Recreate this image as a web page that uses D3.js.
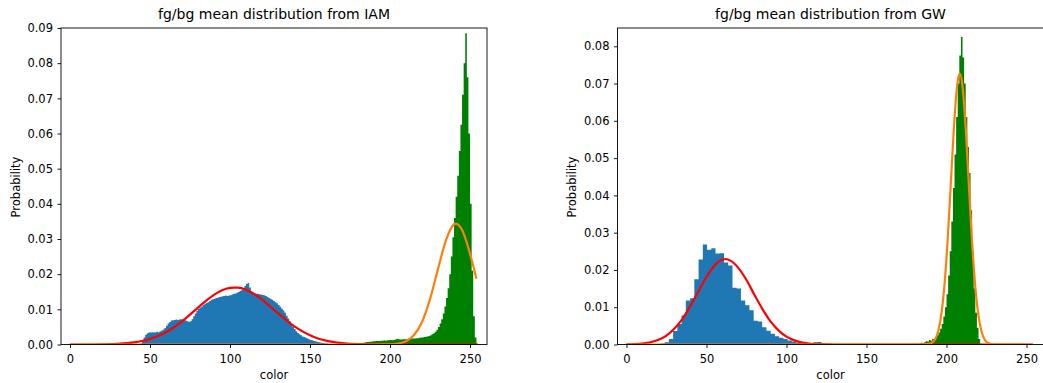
<!DOCTYPE html>
<html><head><meta charset="utf-8">
<script src="https://cdn.jsdelivr.net/npm/d3@7"></script>
<style>body{margin:0;background:#fff} text{font-family:"DejaVu Sans",sans-serif}</style>
</head><body><svg id="c" width="1043" height="383"></svg>
<script>
// ---------- data ----------
const xTicks = [0, 50, 100, 150, 200, 250];
const iamYTicks = [0, 0.01, 0.02, 0.03, 0.04, 0.05, 0.06, 0.07, 0.08, 0.09];
const gwYTicks = [0, 0.01, 0.02, 0.03, 0.04, 0.05, 0.06, 0.07, 0.08];
const titles = ["fg/bg mean distribution from IAM", "fg/bg mean distribution from GW"];

// IAM foreground histogram (bins of width 1 starting at 44)
const iamFgStart = 44, iamFgWidth = 1;
const iamFgValues = [0.0003,0.0012,0.0020,0.0028,0.0032,0.0034,0.0034,0.0035,0.0034,0.0035,0.0036,0.0035,0.0038,0.0040,0.0043,0.0047,0.0053,0.0060,0.0064,0.0068,0.0069,0.0070,0.0071,0.0070,0.0071,0.0072,0.0071,0.0070,0.0068,0.0066,0.0065,0.0066,0.0072,0.0080,0.0088,0.0096,0.0102,0.0105,0.0108,0.0112,0.0116,0.0118,0.0120,0.0124,0.0127,0.0129,0.0130,0.0132,0.0133,0.0135,0.0136,0.0137,0.0138,0.0139,0.0138,0.0139,0.0140,0.0142,0.0144,0.0145,0.0147,0.0149,0.0152,0.0155,0.0158,0.0166,0.0172,0.0175,0.0162,0.0150,0.0147,0.0146,0.0144,0.0144,0.0143,0.0142,0.0141,0.0140,0.0138,0.0135,0.0132,0.0130,0.0127,0.0124,0.0120,0.0117,0.0112,0.0107,0.0102,0.0097,0.0090,0.0082,0.0074,0.0066,0.0058,0.0050,0.0044,0.0038,0.0033,0.0029,0.0026,0.0023,0.0021,0.0019,0.0017,0.0015,0.0013,0.0012,0.0010,0.0009,0.0008,0.0007,0.0006,0.0005,0.0004,0.0003,0.0003,0.0002,0.0001];
// IAM background histogram (bins of width 1 starting at 180)
const iamBgStart = 180, iamBgWidth = 1;
const iamBgValues = [0.0001,0.0003,0.0004,0.0005,0.0006,0.0007,0.0007,0.0008,0.0008,0.0009,0.0009,0.0010,0.0010,0.0010,0.0011,0.0011,0.0012,0.0011,0.0012,0.0012,0.0013,0.0012,0.0013,0.0014,0.0016,0.0015,0.0014,0.0014,0.0015,0.0015,0.0015,0.0016,0.0016,0.0017,0.0017,0.0017,0.0018,0.0018,0.0019,0.0020,0.0020,0.0021,0.0022,0.0023,0.0024,0.0026,0.0029,0.0032,0.0036,0.0042,0.0050,0.0060,0.0072,0.0088,0.0108,0.0132,0.0160,0.0200,0.0250,0.0305,0.0360,0.0420,0.0480,0.0550,0.0625,0.0710,0.0800,0.0885,0.0760,0.0600,0.0400,0.0210,0.0080,0.0020,0.0003];
// IAM fitted curves
const iamFgFitX = [0,10,20,30,40,45,50,55,60,65,70,75,80,85,90,95,100,103,105,110,115,120,125,130,135,140,145,150,155,160,170,180,190,200,254];
const iamFgFitY = [0,0,0.00006,0.0002,0.0006,0.0010,0.0016,0.0024,0.0035,0.0049,0.0066,0.0085,0.0105,0.0124,0.0141,0.0154,0.0161,0.0162,0.0162,0.0156,0.0144,0.0128,0.0108,0.0089,0.0070,0.0052,0.0038,0.0026,0.0017,0.0011,0.0004,0.0001,0.00003,0,0];
const iamBgFitX = [0,100,190,195,200,205,210,215,220,225,230,235,240,241,245,250,254];
const iamBgFitY = [0,0,0,0.00001,0.00006,0.00026,0.00092,0.0027,0.0064,0.0129,0.0215,0.0297,0.0342,0.0344,0.0326,0.0258,0.0187];

// GW foreground histogram (bins of width 2.65 starting at 21.2)
const gwFgStart = 21.2, gwFgWidth = 2.65;
const gwFgValues = [0.0003,0.0006,0.0015,0.0036,0.0055,0.0078,0.0118,0.0124,0.0175,0.0228,0.0268,0.0254,0.0258,0.0244,0.0245,0.0220,0.0212,0.0152,0.0150,0.0118,0.0105,0.0092,0.0064,0.0062,0.0046,0.0037,0.0029,0.0022,0.0018,0.0015,0.0011,0.0008,0.0005,0.0004,0.0003,0.0002,0.0006,0.0007,0.0001];
// GW background histogram (bins of width 1 starting at 183)
const gwBgStart = 183, gwBgWidth = 1;
const gwBgValues = [0.0002,0.0005,0.0003,0.0006,0.0009,0.0008,0.0012,0.0010,0.0015,0.0013,0.0020,0.0025,0.0032,0.0042,0.0055,0.0075,0.0100,0.0135,0.0185,0.0250,0.0330,0.0420,0.0510,0.0610,0.0700,0.0775,0.0825,0.0770,0.0700,0.0610,0.0530,0.0460,0.0360,0.0250,0.0150,0.0085,0.0045,0.0015,0.0002];
// GW fitted curves
const gwFgFitX = [0,5,10,15,20,25,30,35,40,45,50,55,60,62,65,70,75,80,85,90,95,100,105,110,115,120,130,254];
const gwFgFitY = [0.00004,0.0001,0.00027,0.0006,0.00126,0.0024,0.0043,0.0069,0.0104,0.0143,0.0181,0.0212,0.0228,0.0229,0.0225,0.0205,0.0173,0.0133,0.0095,0.0062,0.0038,0.0021,0.0011,0.0005,0.0002,0.0001,0,0];
const gwBgFitX = [0,100,180,185,190,193,195,197,199,201,203,205,207,208.3,210,212,214,216,218,220,222,224,226,230,240,254];
const gwBgFitY = [0,0,0,0.00001,0.0003,0.0015,0.0039,0.0088,0.0174,0.0301,0.0457,0.0607,0.0707,0.0727,0.0693,0.0580,0.0425,0.0273,0.0154,0.0076,0.0033,0.0012,0.0004,0.00003,0,0];

// ---------- drawing ----------
const svg = d3.select("#c");
const C = {blue:"#1f77b4", green:"#008000", red:"#ff0000", orange:"#ff7f0e"};
const FS = 11.5;

function panel(o){
  const x = d3.scaleLinear().domain([-5.6, 260.6]).range([o.left, o.right]);
  const y = d3.scaleLinear().domain([0, o.yMax]).range([344.5, 28]);
  const g = svg.append("g");
  const cid = "clip" + o.id;
  svg.append("defs").append("clipPath").attr("id", cid).append("rect")
    .attr("x", o.left).attr("y", 28).attr("width", o.right - o.left).attr("height", 316.5);
  const plot = g.append("g").attr("clip-path", `url(#${cid})`);

  const hist = (start, w, vals, color) => {
    const pts = vals.map((v, i) => ({e: start + i*w, v}));
    pts.push({e: start + vals.length*w, v: vals[vals.length-1]});
    const area = d3.area().curve(d3.curveStepAfter)
      .x(d => x(d.e)).y0(y(0)).y1(d => y(d.v));
    plot.append("path").attr("d", area(pts)).attr("fill", color);
  };
  const line = (xs, ys, color) => {
    const l = d3.line().curve(d3.curveMonotoneX).x(d => x(d[0])).y(d => y(d[1]));
    plot.append("path").attr("d", l(xs.map((v, i) => [v, ys[i]])))
      .attr("fill", "none").attr("stroke", color).attr("stroke-width", 2.2)
      .attr("stroke-linejoin", "round");
  };
  hist(o.fgStart, o.fgWidth, o.fgValues, C.blue);
  hist(o.bgStart, o.bgWidth, o.bgValues, C.green);
  line(o.fgFitX, o.fgFitY, C.red);
  line(o.bgFitX, o.bgFitY, C.orange);

  // axes
  const ax = g.append("g").attr("transform", `translate(0,${y(0)})`)
    .call(d3.axisBottom(x).tickValues(xTicks).tickFormat(d3.format("d")).tickSize(3.5).tickPadding(6.5));
  const ay = g.append("g").attr("transform", `translate(${o.left},0)`)
    .call(d3.axisLeft(y).tickValues(o.yTicks).tickFormat(d3.format(".2f")).tickSize(3.5).tickPadding(4.5));
  [ax, ay].forEach(a => {
    a.select(".domain").remove();
    a.selectAll("text").attr("font-size", FS).attr("font-family", "DejaVu Sans").attr("fill", "#000");
    a.selectAll("line").attr("stroke", "#000").attr("stroke-width", 0.9);
  });
  g.append("rect").attr("x", o.left).attr("y", 28).attr("width", o.right - o.left).attr("height", 316.5)
    .attr("fill", "none").attr("stroke", "#000").attr("stroke-width", 0.9);

  g.append("text").attr("x", (o.left + o.right)/2).attr("y", 19).attr("text-anchor", "middle")
    .attr("font-size", 14).text(o.title);
  g.append("text").attr("x", (o.left + o.right)/2).attr("y", 378.5).attr("text-anchor", "middle")
    .attr("font-size", FS).text("color");
  g.append("text").attr("transform", `translate(${o.ylabX},187) rotate(-90)`).attr("text-anchor", "middle")
    .attr("font-size", FS).text("Probability");
}

panel({id:1, left:61, right:487, yMax:0.09, yTicks:iamYTicks, title:titles[0], ylabX:20,
  fgStart:iamFgStart, fgWidth:iamFgWidth, fgValues:iamFgValues,
  bgStart:iamBgStart, bgWidth:iamBgWidth, bgValues:iamBgValues,
  fgFitX:iamFgFitX, fgFitY:iamFgFitY, bgFitX:iamBgFitX, bgFitY:iamBgFitY});
panel({id:2, left:617.5, right:1043.5, yMax:0.0849, yTicks:gwYTicks, title:titles[1], ylabX:575.5,
  fgStart:gwFgStart, fgWidth:gwFgWidth, fgValues:gwFgValues,
  bgStart:gwBgStart, bgWidth:gwBgWidth, bgValues:gwBgValues,
  fgFitX:gwFgFitX, fgFitY:gwFgFitY, bgFitX:gwBgFitX, bgFitY:gwBgFitY});
</script></body></html>
